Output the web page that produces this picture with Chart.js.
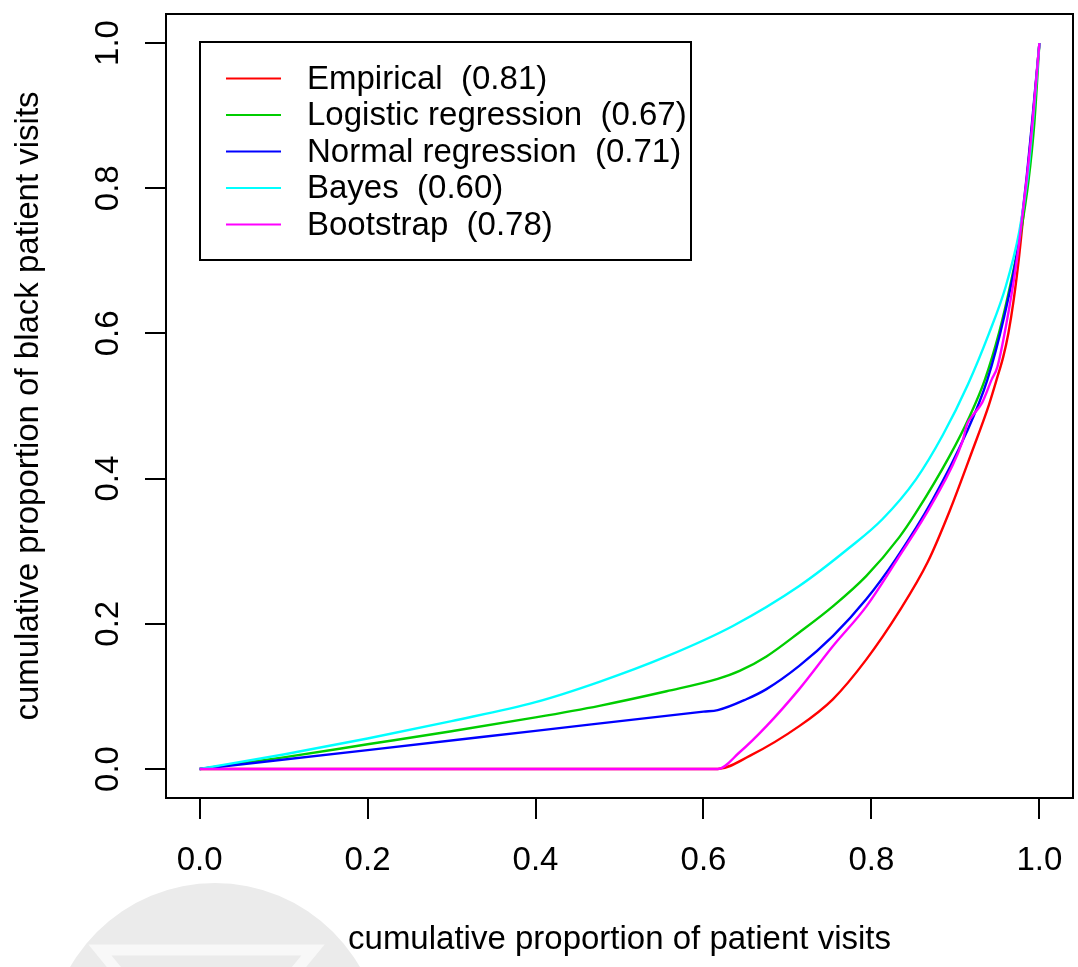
<!DOCTYPE html>
<html>
<head>
<meta charset="utf-8">
<script src="https://cdn.jsdelivr.net/npm/chart.js@4/dist/chart.umd.min.js"></script>
<style>
  html, body { margin: 0; padding: 0; background: #fff; }
  #wrap { width: 1078px; height: 967px; }
</style>
</head>
<body>
<div id="wrap"><canvas id="c" width="1078" height="967"></canvas></div>
<script>
// ── DATA ─────────────────────────────────────
const seriesNames  = ['Empirical  (0.81)', 'Logistic regression  (0.67)', 'Normal regression  (0.71)', 'Bayes  (0.60)', 'Bootstrap  (0.78)'];
const seriesColors = ['#ff0000', '#00cd00', '#0000ff', '#00ffff', '#ff00ff'];
const xTicks = [0, 0.2, 0.4, 0.6, 0.8, 1.0];
const yTicks = [0, 0.2, 0.4, 0.6, 0.8, 1.0];

const empX = [0, 0.617, 0.655, 0.714, 0.754, 0.794, 0.833, 0.867, 0.893, 0.92, 0.94, 0.95, 0.957, 0.963, 0.969, 0.976, 0.984, 0.992, 1];
const empY = [0, 0, 0.018, 0.059, 0.096, 0.151, 0.217, 0.285, 0.355, 0.438, 0.502, 0.54, 0.568, 0.6, 0.643, 0.708, 0.8, 0.895, 1];

const logX = [0, 0.1, 0.2, 0.3, 0.4, 0.476, 0.556, 0.617, 0.643, 0.675, 0.714, 0.754, 0.794, 0.833, 0.853, 0.893, 0.917, 0.935, 0.952, 0.966, 0.978, 0.987, 0.994, 1];
const logY = [0, 0.016, 0.034, 0.052, 0.071, 0.087, 0.107, 0.124, 0.135, 0.155, 0.188, 0.224, 0.266, 0.319, 0.353, 0.431, 0.486, 0.536, 0.601, 0.67, 0.74, 0.81, 0.89, 1];

const nrmX = [0, 0.2, 0.4, 0.6, 0.617, 0.651, 0.675, 0.714, 0.754, 0.794, 0.829, 0.873, 0.913, 0.938, 0.958, 0.974, 0.984, 0.992, 1];
const nrmY = [0, 0.026, 0.0525, 0.079, 0.081, 0.096, 0.110, 0.142, 0.183, 0.234, 0.289, 0.371, 0.463, 0.536, 0.623, 0.715, 0.807, 0.9, 1];

const bayX = [0, 0.1, 0.2, 0.3, 0.4, 0.476, 0.556, 0.635, 0.714, 0.774, 0.813, 0.853, 0.885, 0.915, 0.94, 0.96, 0.976, 0.986, 0.993, 1];
const bayY = [0, 0.02, 0.042, 0.066, 0.092, 0.120, 0.155, 0.197, 0.252, 0.305, 0.344, 0.399, 0.46, 0.53, 0.6, 0.665, 0.74, 0.815, 0.9, 1];

const bootX = [0, 0.617, 0.643, 0.675, 0.714, 0.754, 0.794, 0.831, 0.873, 0.908, 0.914, 0.92, 0.932, 0.943, 0.95, 0.96, 0.972, 0.982, 0.991, 1];
const bootY = [0, 0, 0.023, 0.059, 0.110, 0.169, 0.224, 0.289, 0.367, 0.450, 0.475, 0.486, 0.505, 0.536, 0.554, 0.609, 0.692, 0.784, 0.88, 1];

const xTitle = 'cumulative proportion of patient visits';
const yTitle = 'cumulative proportion of black patient visits';

// ── CHART ─────────────────────────────────────
const FONT = "'Liberation Sans', Arial, Helvetica, sans-serif";
Chart.defaults.font.family = FONT;
Chart.defaults.color = '#000';

const seriesX = [empX, logX, nrmX, bayX, bootX];
const seriesY = [empY, logY, nrmY, bayY, bootY];
const toPts = (xs, ys) => xs.map((x, i) => ({ x, y: ys[i] }));

const datasets = seriesNames.map((name, i) => ({
  label: name,
  data: toPts(seriesX[i], seriesY[i]),
  borderColor: seriesColors[i],
  backgroundColor: seriesColors[i],
  borderWidth: 2.4,
  pointRadius: 0,
  showLine: true,
  fill: false,
  cubicInterpolationMode: 'monotone',
  order: seriesNames.length - i   // later series drawn on top, like R
}));

// frame, rotated y tick labels, legend box, faint watermark
const rPlot = {
  id: 'r-plot',
  beforeDraw(chart) {
    const c = chart.ctx;
    c.save();
    c.fillStyle = '#ebebeb';
    c.beginPath();
    c.arc(215, 1050, 167, 0, Math.PI * 2);
    c.fill();
    c.strokeStyle = '#f8f8f8';
    c.lineWidth = 11;
    c.beginPath();
    c.moveTo(100, 950); c.lineTo(313, 950); c.lineTo(206, 1080); c.closePath();
    c.stroke();
    c.restore();
  },
  afterDraw(chart) {
    const { ctx: c, chartArea: a, scales: { y } } = chart;
    c.save();
    c.strokeStyle = '#000';
    c.lineWidth = 2;
    c.strokeRect(a.left, a.top, a.right - a.left, a.bottom - a.top);

    c.fillStyle = '#000';
    c.font = '33px ' + FONT;
    c.textAlign = 'center';
    c.textBaseline = 'alphabetic';
    yTicks.forEach(v => {
      c.save();
      c.translate(118, y.getPixelForValue(v));
      c.rotate(-Math.PI / 2);
      c.fillText(v.toFixed(1), 0, 0);
      c.restore();
    });

    // legend
    const bx = 200, by = 42, bw = 491, bh = 218, rowH = 36.5, row0 = 78.5;
    c.fillStyle = '#fff';
    c.fillRect(bx, by, bw, bh);
    c.strokeRect(bx, by, bw, bh);
    c.textAlign = 'left';
    c.textBaseline = 'middle';
    seriesNames.forEach((name, i) => {
      const ly = row0 + i * rowH;
      c.strokeStyle = seriesColors[i];
      c.lineWidth = 2;
      c.beginPath();
      c.moveTo(226, ly); c.lineTo(281, ly);
      c.stroke();
      c.fillStyle = '#000';
      c.fillText(name, 307, ly + 1);
    });
    c.restore();
  }
};

new Chart(document.getElementById('c'), {
  type: 'scatter',
  data: { datasets },
  options: {
    responsive: false,
    animation: false,
    devicePixelRatio: 1,
    layout: { padding: { top: 14, right: 5, left: 0, bottom: 0 } },
    plugins: { legend: { display: false }, tooltip: { enabled: false } },
    scales: {
      x: {
        type: 'linear', position: 'bottom', min: -0.04, max: 1.04,
        afterBuildTicks: s => { s.ticks = xTicks.map(v => ({ value: v })); },
        afterFit: s => { s.height = 169; s.paddingLeft = 0; s.paddingRight = 0; },
        grid: { drawOnChartArea: false, drawTicks: true, tickLength: 21, color: '#000', lineWidth: 2 },
        border: { display: false },
        ticks: { color: '#000', font: { size: 33 }, padding: 22, maxRotation: 0, callback: v => Number(v).toFixed(1) },
        title: { display: true, text: xTitle, color: '#000', font: { size: 33 }, padding: { top: 0, bottom: 7 } }
      },
      y: {
        type: 'linear', position: 'left', min: -0.04, max: 1.04,
        afterBuildTicks: s => { s.ticks = yTicks.map(v => ({ value: v })); },
        afterFit: s => { s.width = 166; s.paddingTop = 0; s.paddingBottom = 0; },
        grid: { drawOnChartArea: false, drawTicks: true, tickLength: 21, color: '#000', lineWidth: 2 },
        border: { display: false },
        ticks: { display: false },
        title: { display: true, text: yTitle, color: '#000', font: { size: 33 }, padding: { top: 9, bottom: 0 } }
      }
    }
  },
  plugins: [rPlot]
});
</script>
</body>
</html>
